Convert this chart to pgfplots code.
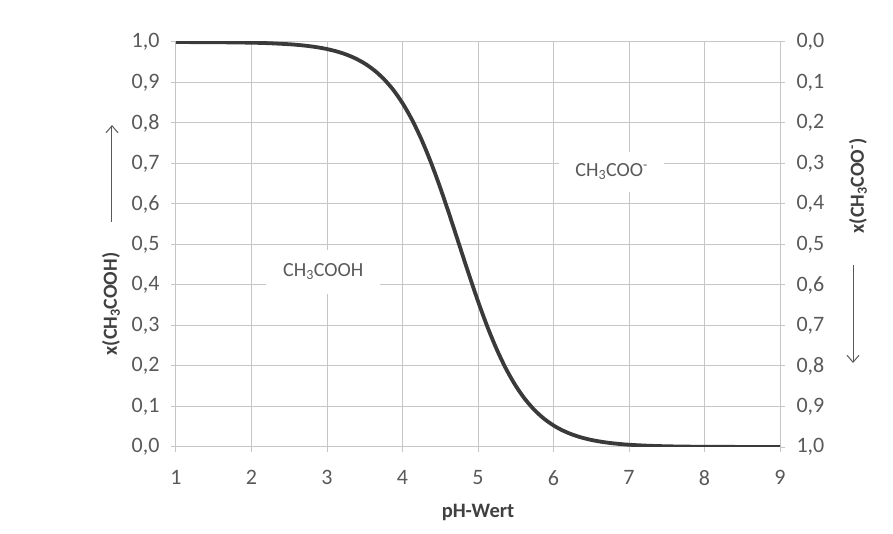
\documentclass[border=0pt]{standalone}
\usepackage{fontspec}
\setmainfont{Carlito}
\usepackage{pgfplots}
\pgfplotsset{compat=1.18}
\usetikzlibrary{arrows.meta}
\definecolor{gridc}{HTML}{C6C6C6}
\definecolor{txt}{HTML}{595959}
\definecolor{lbl}{HTML}{404040}
\definecolor{curve}{HTML}{3A3A3A}
\begin{document}
\begin{tikzpicture}[x=1bp,y=1bp,font=\fontsize{20bp}{24bp}\selectfont]
\pgfplotsset{
  common/.style={
    at={(0,0)}, anchor=south west,
    scale only axis, width=604bp, height=405bp,
    xmin=1, xmax=9, ymin=0, ymax=1,
    axis line style={draw=none},
    tick style={gridc, line width=1bp},
    tick align=outside, major tick length=5bp,
    ytick={0,0.1,0.2,0.3,0.4,0.5,0.6,0.7,0.8,0.9,1.0},
    /pgf/number format/.cd, use comma, fixed, fixed zerofill, precision=1, assume math mode=true,
    /pgfplots/.cd,
    ticklabel style={font=\fontsize{22bp}{26bp}\selectfont, text=txt},
  }
}
\begin{axis}[common,
  xtick={1,2,3,4,5,6,7,8,9},
  xticklabel style={/pgf/number format/precision=0, /pgf/number format/fixed zerofill=false, yshift=-15bp},
  yticklabel style={xshift=-8bp},
  grid=major, major grid style={gridc, line width=1bp},
  xtick pos=left, ytick pos=left,
]
\addplot[curve, line width=3.8bp, smooth] coordinates {
(1,0.99982) (1.5,0.99944) (2,0.99823) (2.25,0.99685) (2.5,0.99441) (2.625,0.99256) (2.75,0.99010)
(2.875,0.98684) (3,0.98253) (3.125,0.97684) (3.25,0.96935) (3.375,0.95954) (3.5,0.94676)
(3.625,0.93024) (3.75,0.90909) (3.875,0.88234)
(4,0.84902) (4.125,0.80832) (4.25,0.75975) (4.375,0.70339) (4.5,0.64006)
(4.625,0.57146) (4.75,0.5) (4.875,0.42855) (5,0.35994) (5.125,0.29662)
(5.25,0.24025) (5.375,0.19168) (5.5,0.15098) (5.625,0.11766) (5.75,0.09091)
(5.875,0.06976) (6,0.05324) (6.125,0.04046) (6.25,0.03065) (6.375,0.02316) (6.5,0.01747)
(6.625,0.01316) (6.75,0.00990) (6.875,0.00744) (7,0.00559) (7.25,0.00315)
(7.5,0.00178) (7.75,0.00100) (8,0.00056) (8.5,0.00018) (9,0.00006)
};
\node[fill=white, text=txt, inner xsep=17bp, inner ysep=14bp] at (axis cs:2.95,0.433) {CH\textsubscript{3}COOH};
\node[fill=white, text=txt, inner xsep=16bp, inner ysep=12bp] at (axis cs:6.77,0.679) {CH\textsubscript{3}COO\textsuperscript{-}};
\end{axis}
\begin{axis}[common,
  y dir=reverse,
  xtick=\empty,
  ytick pos=right, yticklabel pos=right,
  yticklabel style={xshift=8bp},
]
\end{axis}
\node[text=lbl, font=\fontsize{20.5bp}{24bp}\selectfont\bfseries] at (302,-65) {pH-Wert};
\node[rotate=90, text=lbl, font=\fontsize{20bp}{24bp}\selectfont\bfseries] at (-65,143) {x(CH\textsubscript{3}COOH)};
\draw[-{Straight Barb[length=7bp,width=12bp]}, txt, line width=1bp] (-64,225) -- (-64,322);
\node[rotate=90, text=lbl, font=\fontsize{20bp}{24bp}\selectfont\bfseries] at (682,261) {x(CH\textsubscript{3}COO\textsuperscript{-})};
\draw[-{Straight Barb[length=7bp,width=12bp]}, txt, line width=1bp] (677,182) -- (677,84);
\pgfresetboundingbox
\path[use as bounding box] (-176,-87) rectangle (717,447);
\end{tikzpicture}
\end{document}
